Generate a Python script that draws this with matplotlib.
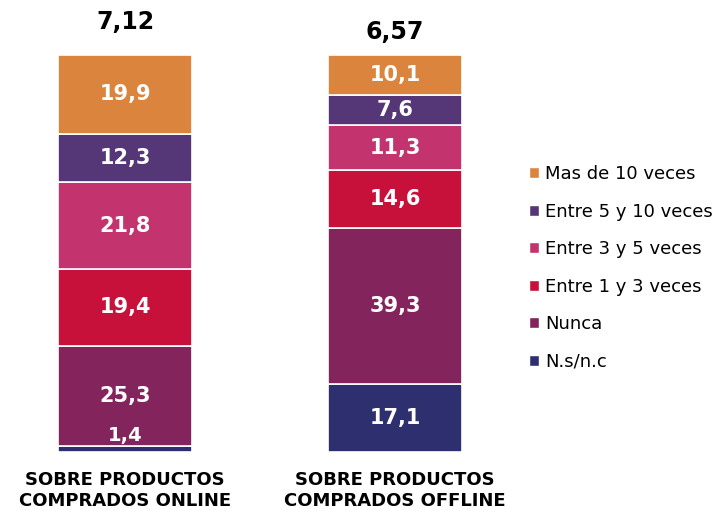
import matplotlib
matplotlib.use("Agg")
import matplotlib.pyplot as plt
from matplotlib.patches import Patch

groups = ["SOBRE PRODUCTOS\nCOMPRADOS ONLINE", "SOBRE PRODUCTOS\nCOMPRADOS OFFLINE"]
totals = ["7,12", "6,57"]
categories = ["N.s/n.c", "Nunca", "Entre 1 y 3 veces", "Entre 3 y 5 veces",
              "Entre 5 y 10 veces", "Mas de 10 veces"]
online = [1.4, 25.3, 19.4, 21.8, 12.3, 19.9]
offline = [17.1, 39.3, 14.6, 11.3, 7.6, 10.1]
colors = ["#2E2F6E", "#84245C", "#C8113A", "#C3346E", "#553778", "#DB843D"]

fig = plt.figure(figsize=(7.23, 5.11), dpi=100)
ax = fig.add_axes([0, 59/511, 1, (452-55)/511])
ax.set_xlim(-125/270, (723-125)/270)
ax.set_ylim(0, 100)
ax.axis("off")

series = [online, offline]
width = 134/270
for gi, vals in enumerate(series):
    bottom = 0
    for ci, v in enumerate(vals):
        ax.bar(gi, v, width=width, bottom=bottom, color=colors[ci],
               edgecolor="white", linewidth=1.2)
        lab = f"{v:.1f}".replace(".", ",")
        if v < 3:
            ax.text(gi, bottom + v + 0.4, lab, ha="center", va="bottom",
                    color="white", fontsize=14, fontweight="bold")
        else:
            ax.text(gi, bottom + v/2, lab, ha="center", va="center",
                    color="white", fontsize=15, fontweight="bold")
        bottom += v

ax.text(0, 108.3, totals[0], ha="center", va="center", fontsize=17,
        fontweight="bold", clip_on=False)
ax.text(1, 105.8, totals[1], ha="center", va="center", fontsize=17,
        fontweight="bold", clip_on=False)

for gi, g in enumerate(groups):
    ax.text(gi, -4.8, g, ha="center", va="top", fontsize=13,
            fontweight="bold", linespacing=1.2, clip_on=False)

handles = [Patch(facecolor=colors[i], edgecolor="white", label=categories[i])
           for i in range(len(categories))][::-1]
fig.legend(handles=handles, loc="upper left", bbox_to_anchor=(522/723, 1 - 158/511),
           frameon=False, fontsize=13, handlelength=0.55, handleheight=0.55,
           handletextpad=0.35, labelspacing=1.08, borderaxespad=0)

fig.savefig("out.png", dpi=100)
